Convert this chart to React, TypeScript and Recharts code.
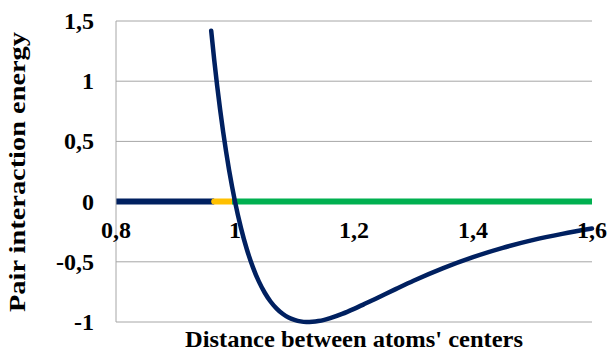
import { LineChart, Line, XAxis, YAxis, CartesianGrid, Label } from "recharts";

// pair potential
const distance = [
  0.96, 0.965, 0.97, 0.975, 0.98, 0.985, 0.99, 0.995, 1.0, 1.01, 1.02, 1.03, 1.04, 1.05, 1.06,
  1.07, 1.08, 1.09, 1.1, 1.11, 1.12, 1.13, 1.14, 1.15, 1.16, 1.18, 1.2, 1.22, 1.24, 1.27, 1.3,
  1.35, 1.4, 1.45, 1.5, 1.55, 1.6,
];
const energy = [
  1.419, 1.18, 0.963, 0.764, 0.582, 0.416, 0.264, 0.126, 0, -0.218, -0.398, -0.544, -0.663,
  -0.757, -0.832, -0.889, -0.932, -0.963, -0.982, -0.995, -1.0, -0.998, -0.992, -0.982, -0.968,
  -0.933, -0.891, -0.845, -0.798, -0.727, -0.657, -0.552, -0.461, -0.384, -0.32, -0.268, -0.224,
];

// coloured stretches along the zero line
const navyBand = [0.8, 0.965];
const orangeBand = [0.965, 0.995];
const greenBand = [0.995, 1.6];

const xTicks = [0.8, 1, 1.2, 1.4, 1.6];
const yTicks = [-1, -0.5, 0, 0.5, 1, 1.5];

const curve = distance.map((x, i) => ({ x, y: energy[i] }));
const band = (b: number[]) => b.map((x) => ({ x, y: 0 }));
const fmt = (v: number) => String(v).replace(".", ",");

// y = 0 sits at 21 + 301 * 1.5 / 2.5
const yZero = 21 + (301 * 1.5) / 2.5;

const App = () => {
  return (
    <div style={{ position: "absolute", left: 0, top: 0, background: "#fff" }}>
      <LineChart width={609} height={354} margin={{ top: 21, right: 17, bottom: 0, left: 0 }}>
        <CartesianGrid vertical={false} stroke="#a6a6a6" />
        <XAxis
          dataKey="x"
          type="number"
          domain={[0.8, 1.6]}
          ticks={xTicks}
          height={32}
          axisLine={false}
          tickLine={false}
          tick={(p: any) => (
            <text x={p.x} y={yZero + 36} textAnchor="middle" fontSize={24} fontWeight="bold" fontFamily="Liberation Serif">
              {fmt(p.payload.value)}
            </text>
          )}
        />
        <YAxis
          type="number"
          domain={[-1, 1.5]}
          ticks={yTicks}
          width={116}
          axisLine={{ stroke: "#a6a6a6" }}
          tickLine={false}
          tick={(p: any) => (
            <text x={94} y={p.y + 8} textAnchor="end" fontSize={24} fontWeight="bold" fontFamily="Liberation Serif">
              {fmt(p.payload.value)}
            </text>
          )}
        >
          <Label
            content={() => (
              <g>
                <text
                  transform="translate(25 172) rotate(-90)"
                  textAnchor="middle"
                  fontSize={23}
                  fontWeight="bold"
                  fontFamily="Times New Roman"
                  textLength={280}
                  lengthAdjust="spacingAndGlyphs"
                >
                  Pair interaction energy
                </text>
                <text
                  x={354}
                  y={347}
                  textAnchor="middle"
                  fontSize={24}
                  fontWeight="bold"
                  fontFamily="Times New Roman"
                  textLength={338}
                  lengthAdjust="spacingAndGlyphs"
                >
                  Distance between atoms' centers
                </text>
              </g>
            )}
          />
        </YAxis>
        <Line
          data={band(navyBand)}
          dataKey="y"
          stroke="#002060"
          strokeWidth={6}
          dot={false}
          activeDot={false}
          isAnimationActive={false}
        />
        <Line
          data={band(orangeBand)}
          dataKey="y"
          stroke="#ffc000"
          strokeWidth={6}
          strokeLinecap="round"
          dot={false}
          activeDot={false}
          isAnimationActive={false}
        />
        <Line
          data={band(greenBand)}
          dataKey="y"
          stroke="#00b050"
          strokeWidth={6}
          dot={false}
          activeDot={false}
          isAnimationActive={false}
        />
        <Line
          data={curve}
          dataKey="y"
          type="monotone"
          stroke="#002060"
          strokeWidth={4.5}
          strokeLinecap="round"
          dot={false}
          activeDot={false}
          isAnimationActive={false}
        />
      </LineChart>
    </div>
  );
};

export default App;
